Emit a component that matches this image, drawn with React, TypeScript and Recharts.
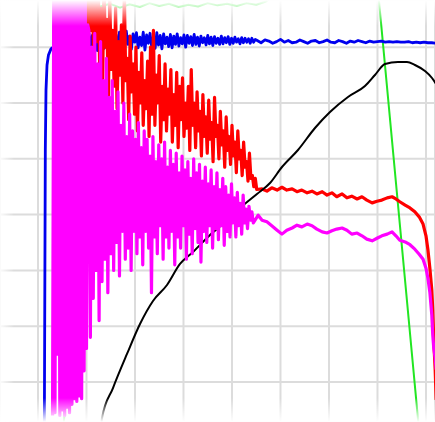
import { LineChart, Line, XAxis, YAxis, CartesianGrid } from "recharts";

// axis ticks (grid lines only, axes are hidden)
const xTicks = [0, 10, 20, 30, 40, 50, 60, 70, 80];
const yTicks = [0, 10, 20, 30, 40, 50, 60];

// blue: steep start, then noisy plateau
const blueRise: [number, number][] = [
    [1.3, -10.4], [1.4, 14.7], [1.51, 41.6], [1.65, 52.3], [1.86, 56.8],
    [2.16, 58.6], [2.68, 59.7], [3.09, 60.0], [6, 60.5], [10, 61],
];
const blueNoiseStart = 10.5;
const blueNoiseStep = 0.35;
const blueNoise = [
    62.6, 59.6, 62.1, 60.4, 62.9, 59.4, 61.7, 60.8, 62.4, 59.8, 62.8, 60.2, 61.9, 59.5, 62.5, 60.6,
    62.2, 59.3, 62.7, 60.1, 61.6, 59.7, 62.9, 60.5, 62.0, 59.6, 62.4, 60.9, 62.6, 59.9, 61.8, 60.3,
    62.7, 59.5, 62.2, 60.7, 62.5, 60.0, 61.9, 59.8, 62.6, 60.4, 62.1, 59.7, 62.4, 60.6, 61.8, 60.1,
    62.3, 59.9, 62.0, 60.5, 62.4, 60.2, 61.7, 60.6, 62.2, 60.0, 62.1, 60.7, 61.9, 60.3, 62.3, 60.5,
    61.8, 60.2, 62.0, 60.8, 61.7, 60.4, 62.1, 60.6, 61.8, 60.3, 61.9, 60.7, 61.6, 60.5, 62.0, 60.6,
    61.7, 60.8, 61.9, 60.5, 61.6, 60.7, 61.8, 60.9, 61.5, 60.6, 61.7, 60.8, 61.6, 60.9, 61.5, 60.7,
    61.6, 60.9, 61.4,
];
const blueTailStart = 45.2;
const blueTailStep = 0.8;
const blueTail = [
    61.2, 60.8, 61.3, 61.1, 60.7, 61.0, 61.4, 60.9, 61.2, 60.8, 60.9, 61.3, 61.0, 60.7, 61.1, 61.2,
    60.8, 61.0, 61.3, 60.9, 60.8, 61.2, 61.0, 60.7, 61.1, 60.9, 61.2, 61.0, 60.8, 61.1, 60.9, 61.0,
    61.1, 60.9, 61.0, 60.9, 61.0, 60.9, 60.9, 61.0, 60.8, 60.9, 60.8, 60.9, 60.8, 60.8, 60.7,
];

// red: noisy decay, then flat band and a drop at the end
const redNoiseStart = 10.0;
const redNoiseStep = 0.3;
const redNoise = [
    72, 58, 71, 63, 72, 55, 69, 61, 72, 57, 67, 52, 71, 60, 65, 50, 69, 56, 63, 53,
    67, 49, 61, 55, 64, 50, 70, 54, 58, 47, 62, 52, 57, 48, 60, 45, 55.5, 50, 59, 46,
    54, 49, 57.5, 44, 60, 48, 63, 46, 55, 50, 58.5, 43, 53, 47, 57, 45, 52.5, 48, 56, 43,
    51.5, 46, 55.5, 42, 53, 47, 54.5, 44, 50, 45.5, 53, 41.5, 56, 46, 50, 42, 52, 45, 48.5, 40.5,
    51.5, 44, 47.5, 41, 50.5, 43.5, 46.5, 39.5, 51, 44, 46, 40, 48.5, 42.5, 45, 38.5, 47.5, 41.5,
    44, 39, 46, 40.5, 43, 37.5, 45, 40, 41.5, 37, 43, 38.5, 39.5, 36, 41, 36.5, 37, 35,
    36.5, 34.5,
];
const redTail: [number, number][] = [
    [46.2, 34.6], [47.2, 34.2], [48.2, 34.8], [49.3, 34.4], [50.3, 34.9], [51.3, 34.4],
    [52.4, 34.6], [53.4, 34.1], [54.4, 34.4], [55.5, 33.9], [56.5, 34.2], [57.5, 33.7], [58.6, 34.1],
    [59.6, 33.5], [60.6, 33.9], [61.6, 33.2], [62.7, 33.7], [63.7, 33.0], [64.7, 33.3], [65.8, 32.8],
    [66.8, 33.2], [67.8, 32.6], [68.9, 32.1], [69.9, 32.4], [70.9, 32.6], [72.0, 33.0], [73.0, 33.2],
    [73.8, 32.8], [74.6, 32.3], [75.7, 31.7], [76.7, 31.2], [77.7, 30.5], [78.6, 29.6], [79.4, 28.3],
    [80.0, 26.2], [80.4, 23.7], [80.8, 20.4], [81.2, 16.5], [81.4, 12.9], [81.6, 7.5], [81.9, 2.2],
    [82.1, -3.2],
];

// magenta: saturated burst, noisy decay, flat band, drop
const magentaBurstStart = 3.0;
const magentaBurstStep = 0.25;
const magentaBurst = [
    -6, 72, -5.5, 71, 5, 72, -6, 71.5, -5, 72, -6, 70, -4.5, 72, -5.5, 71,
    -4, 72, -3, 70.5, -3.5, 72, -2.5, 71, -3, 70, 2, 69.5, 6, 64,
];
const magentaNoiseStart = 10.5;
const magentaNoiseStep = 0.3;
const magentaNoise = [
    63, 8, 60, 15, 62.5, 20, 57, 11, 61, 18, 54, 22, 58, 16, 51, 23, 54, 20, 48.5, 25,
    52, 19, 46, 27, 50, 22, 44, 24, 48, 20, 45, 27, 43.5, 23, 46.5, 26, 42, 21, 45, 27,
    43.5, 24, 40.5, 16, 44, 26, 39.5, 23, 42.5, 28, 40, 22, 43, 26, 38.5, 24, 41.5, 27, 39, 21,
    41, 26, 37.5, 24, 40.5, 28, 38, 22, 39.5, 26.5, 36.5, 23, 40, 27.5, 37.5, 25, 39, 21.5, 36, 27,
    38.5, 25, 35.5, 28, 38, 24, 35, 27.5, 37.5, 25.5, 34.5, 28, 36.5, 24.5, 35, 27, 33.5, 26, 35.5, 28.5,
    33, 26, 34, 28, 32, 26.5, 33.5, 28.5, 31, 27.5, 31.5, 29, 30.5, 28.5,
];
const magentaTail: [number, number][] = [
    [45.4, 29.9], [46.2, 29.0], [47.2, 28.7], [48.2, 28.0], [49.3, 27.2], [50.3, 26.5], [51.3, 27.2],
    [52.4, 27.6], [53.4, 28.1], [54.4, 27.8], [55.5, 28.3], [56.5, 28.0], [57.5, 27.4], [58.6, 26.9],
    [59.6, 26.7], [60.6, 27.1], [61.6, 27.4], [62.7, 27.6], [63.7, 27.2], [64.7, 26.5], [65.8, 26.7],
    [66.8, 26.2], [67.8, 25.6], [68.9, 25.3], [70.0, 25.8], [70.9, 26.2], [72.0, 26.5], [73.0, 26.9],
    [73.8, 26.2], [74.6, 25.4], [75.7, 25.1], [76.7, 24.6], [77.7, 23.8], [78.6, 22.9], [79.4, 22.0],
    [80.0, 20.4], [80.4, 18.6], [80.8, 16.1], [81.2, 12.0], [81.4, 8.4], [81.6, 6.1], [81.9, 4.3],
    [82.1, 2.2],
];

// black: smooth rise to a peak
const blackCurve: [number, number][] = [
    [12.99, -8.6], [13.2, -6.45], [15.46, -1.08], [18.35, 5.02], [21.03, 10.39], [23.71, 14.52],
    [26.6, 17.38], [29.28, 21.15], [31.96, 23.3], [35.46, 26.34], [38.56, 28.67], [41.65, 31.18],
    [45.15, 33.69], [47.84, 35.66], [50.31, 38.53], [53.61, 41.58], [57.11, 45.52], [60.21, 48.39],
    [63.92, 51.08], [67.42, 53.05], [69.48, 55.02], [71.55, 56.99], [74.23, 57.35], [76.08, 57.35],
    [77.73, 56.81], [79.79, 55.73], [81.24, 54.48], [82.06, 53.41],
];

// green: climbs early, rides above the top, then falls steeply
const greenCurve: [number, number][] = [
    [4.95, -10.4], [5.77, -3.2], [6.6, 9.3], [7.01, 16.5], [7.42, 32.6], [8.04, 50.5], [9.07, 63.1],
    [10.72, 66.7], [12.8, 67.3], [14.8, 67.8], [16.9, 67.1], [18.9, 67.7], [21, 67.2], [23, 67.9],
    [25, 67.4], [27, 67.8], [29, 67.2], [31, 67.6], [33, 67.3], [35, 67.9], [37, 67.5], [39, 67.8],
    [41, 67.4], [43, 67.9], [45, 67.6], [47, 68.2], [49, 69.5], [51, 71], [55, 72], [60, 72],
    [65, 71.5], [70.1, 70.25], [78.76, -10.4],
];

const fromPairs = (pairs: [number, number][]) => pairs.map(([x, y]) => ({ x, y }));
const fromSeries = (start: number, step: number, ys: number[]) =>
    ys.map((y, i) => ({ x: Number((start + i * step).toFixed(3)), y }));

const blueData = [
    ...fromPairs(blueRise),
    ...fromSeries(blueNoiseStart, blueNoiseStep, blueNoise),
    ...fromSeries(blueTailStart, blueTailStep, blueTail),
];
const redData = [...fromSeries(redNoiseStart, redNoiseStep, redNoise), ...fromPairs(redTail)];
const magentaData = [
    ...fromSeries(magentaBurstStart, magentaBurstStep, magentaBurst),
    ...fromSeries(magentaNoiseStart, magentaNoiseStep, magentaNoise),
    ...fromPairs(magentaTail),
];
const blackData = fromPairs(blackCurve);
const greenData = fromPairs(greenCurve);

const W = 435;
const H = 422;

const lineProps = {
    dataKey: "y",
    dot: false,
    activeDot: false,
    isAnimationActive: false,
    strokeLinejoin: "round" as const,
};

export default function App() {
    return (
        <div
            style={{
                position: "absolute",
                left: 0,
                top: 0,
                width: W,
                height: H,
                background: "#fff",
                overflow: "hidden",
            }}
        >
            <LineChart width={W} height={H} margin={{ top: 0, right: 0, bottom: 0, left: 0 }}>
                <CartesianGrid stroke="#dcdcdc" strokeWidth={2} />
                <XAxis
                    dataKey="x"
                    type="number"
                    domain={[-7.835, 81.86]}
                    ticks={xTicks}
                    allowDataOverflow
                    hide
                />
                <YAxis
                    dataKey="y"
                    type="number"
                    domain={[-7.17, 68.46]}
                    ticks={yTicks}
                    allowDataOverflow
                    hide
                    width={0}
                />
                <Line {...lineProps} data={greenData} stroke="#22e622" strokeWidth={2} type="linear" />
                <Line {...lineProps} data={blueData} stroke="#0000ee" strokeWidth={2.8} type="linear" />
                <Line {...lineProps} data={redData} stroke="#ff0000" strokeWidth={3.2} type="linear" />
                <Line {...lineProps} data={blackData} stroke="#000000" strokeWidth={2} type="monotone" />
                <Line {...lineProps} data={magentaData} stroke="#ff00ff" strokeWidth={3.2} type="linear" />
            </LineChart>
            <div
                style={{
                    position: "absolute",
                    inset: 0,
                    pointerEvents: "none",
                    background:
                        "linear-gradient(to bottom, #fff 0px, rgba(255,255,255,0) 26px, rgba(255,255,255,0) 398px, #fff 422px), linear-gradient(to right, rgba(255,255,255,0.9) 0px, rgba(255,255,255,0) 14px)",
                }}
            />
        </div>
    );
}
